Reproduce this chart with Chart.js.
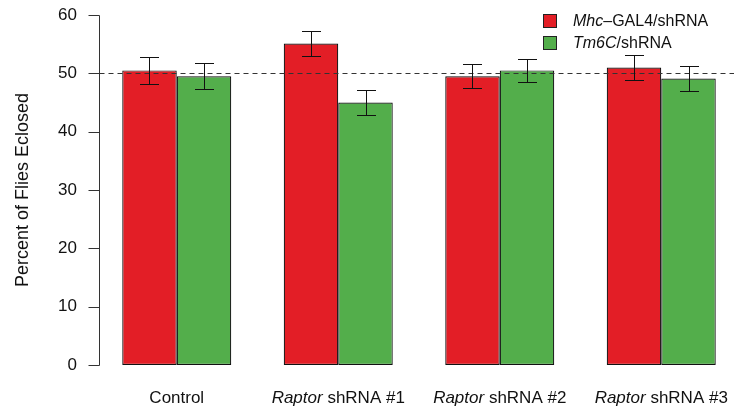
<!DOCTYPE html>
<html>
<head>
<meta charset="utf-8">
<script src="https://cdn.jsdelivr.net/npm/chart.js@4"></script>
<style>
  html, body { margin: 0; padding: 0; background: #fff; overflow: hidden; }
  #wrap { width: 742px; height: 411px; }
</style>
</head>
<body>
<div id="wrap"><canvas id="eclosion" width="742" height="411"></canvas></div>
<script>
// donnees
const categories = ['Control', 'Raptor shRNA #1', 'Raptor shRNA #2', 'Raptor shRNA #3'];
const italicWords = ['', 'Raptor', 'Raptor', 'Raptor'];
const mhcValues = [50.5, 55.1, 49.5, 51.0];
const mhcErrors = [2.3, 2.1, 2.05, 2.1];
const tm6cValues = [49.5, 45.0, 50.5, 49.1];
const tm6cErrors = [2.25, 2.1, 2.0, 2.2];
const yTicks = [0, 10, 20, 30, 40, 50, 60];
const refLine = 50;

const FONT = '"Liberation Sans", Arial, Helvetica, sans-serif';
const RED = '#e31e26';
const GREEN = '#53ae4b';
const AXIS_GAP = 3; // l'axe y est un peu decale a droite du bord du graphique

// texte avec une partie en italique
function drawMixed(ctx, italic, rest, x, y, size, align) {
    ctx.font = 'italic ' + size + 'px ' + FONT;
    const wi = ctx.measureText(italic).width;
    ctx.font = size + 'px ' + FONT;
    const wr = ctx.measureText(rest).width;
    let start = align === 'center' ? x - (wi + wr) / 2 : x;
    ctx.textAlign = 'left';
    ctx.textBaseline = 'middle';
    ctx.fillStyle = '#111';
    ctx.font = 'italic ' + size + 'px ' + FONT;
    ctx.fillText(italic, start, y);
    ctx.font = size + 'px ' + FONT;
    ctx.fillText(rest, start + wi, y);
}

const extras = {
    id: 'extras',
    afterDatasetsDraw(chart) {
        const ctx = chart.ctx;
        const y = chart.scales.y;
        const area = chart.chartArea;
        const ax = Math.round(area.left + AXIS_GAP) + 0.5;
        ctx.save();

        // axe y avec graduations
        ctx.strokeStyle = '#333';
        ctx.lineWidth = 1;
        ctx.beginPath();
        ctx.moveTo(ax, Math.round(y.getPixelForValue(yTicks[0])) + 0.5);
        ctx.lineTo(ax, Math.round(y.getPixelForValue(yTicks[yTicks.length - 1])) + 0.5);
        yTicks.forEach(v => {
            const py = Math.round(y.getPixelForValue(v)) + 0.5;
            ctx.moveTo(ax - 11, py);
            ctx.lineTo(ax, py);
        });
        ctx.stroke();

        // ligne pointillee a 50
        ctx.setLineDash([5, 4]);
        ctx.beginPath();
        const yl = Math.round(y.getPixelForValue(refLine)) + 0.5;
        ctx.moveTo(ax, yl);
        ctx.lineTo(area.right, yl);
        ctx.stroke();
        ctx.setLineDash([]);

        // barres d'erreur
        const errs = [mhcErrors, tm6cErrors];
        const vals = [mhcValues, tm6cValues];
        ctx.strokeStyle = '#111';
        [0, 1].forEach(d => {
            chart.getDatasetMeta(d).data.forEach((bar, i) => {
                const x = Math.round(bar.x) + 0.5;
                const top = Math.round(y.getPixelForValue(vals[d][i] + errs[d][i])) + 0.5;
                const bot = Math.round(y.getPixelForValue(vals[d][i] - errs[d][i])) + 0.5;
                ctx.beginPath();
                ctx.moveTo(x, top); ctx.lineTo(x, bot);
                ctx.moveTo(x - 9.5, top); ctx.lineTo(x + 9.5, top);
                ctx.moveTo(x - 9.5, bot); ctx.lineTo(x + 9.5, bot);
                ctx.stroke();
            });
        });

        // etiquettes de l'axe x
        const xs = chart.scales.x;
        categories.forEach((c, i) => {
            const it = italicWords[i];
            const rest = it ? c.slice(it.length) : c;
            drawMixed(ctx, it, rest, xs.getPixelForValue(i), 398, 17, 'center');
        });

        // legende
        const items = [[RED, 'Mhc', '\u2013GAL4/shRNA'], [GREEN, 'Tm6C', '/shRNA']];
        items.forEach((it, k) => {
            const by = 14 + k * 22;
            ctx.fillStyle = it[0];
            ctx.fillRect(543, by, 14, 14);
            ctx.strokeStyle = '#222';
            ctx.strokeRect(543.5, by + 0.5, 13, 13);
            drawMixed(ctx, it[1], it[2], 573, by + 8, 16, 'left');
        });
        ctx.restore();
    }
};

const barStyle = {
    borderColor: '#111',
    borderWidth: 1.2,
    borderSkipped: false,
    barPercentage: 1.0,
    categoryPercentage: 0.675
};

new Chart(document.getElementById('eclosion').getContext('2d'), {
    type: 'bar',
    data: {
        labels: categories,
        datasets: [
            Object.assign({ label: 'Mhc-GAL4/shRNA', data: mhcValues, backgroundColor: RED }, barStyle),
            Object.assign({ label: 'Tm6C/shRNA', data: tm6cValues, backgroundColor: GREEN }, barStyle)
        ]
    },
    options: {
        responsive: false,
        animation: false,
        layout: { padding: { top: 15, right: 0, left: 0, bottom: 0 } },
        plugins: {
            legend: { display: false },
            tooltip: { enabled: false }
        },
        scales: {
            x: {
                ticks: { display: false },
                grid: { display: false },
                border: { display: false },
                afterFit: s => { s.height = 46; }
            },
            y: {
                min: 0,
                max: 60,
                afterFit: s => { s.width = 96; s.paddingTop = 0; s.paddingBottom = 0; },
                afterBuildTicks: s => { s.ticks = yTicks.map(v => ({ value: v })); },
                ticks: {
                    color: '#111',
                    padding: 11,
                    font: { family: FONT, size: 17 }
                },
                grid: { display: false },
                border: { display: false },
                title: {
                    display: true,
                    text: 'Percent of Flies Eclosed',
                    color: '#111',
                    font: { family: FONT, size: 18 },
                    padding: { top: 12, bottom: 0 }
                }
            }
        }
    },
    plugins: [extras]
});
</script>
</body>
</html>
